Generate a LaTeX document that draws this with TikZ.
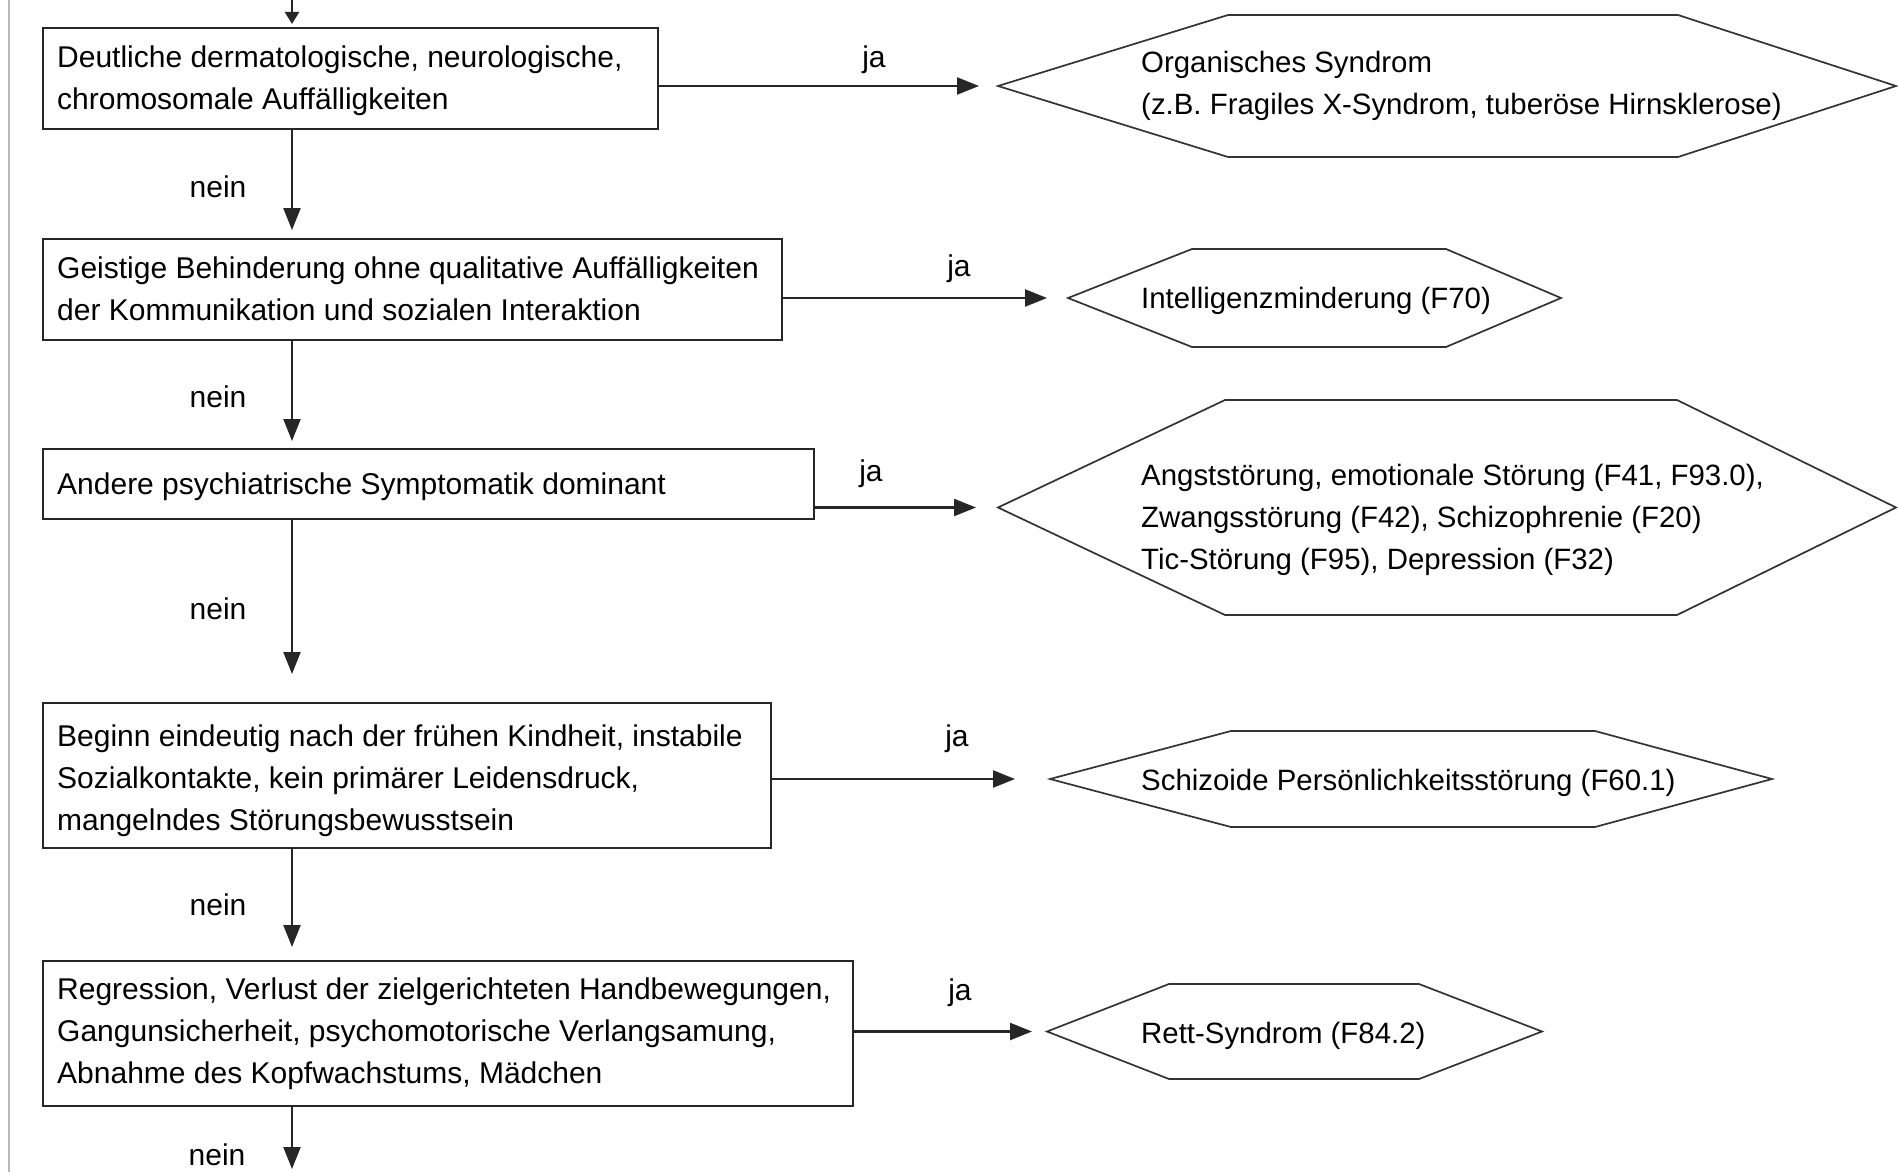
\documentclass[tikz,border=0pt]{standalone}
\usepackage{fontspec}
\setmainfont{Liberation Sans}
\usetikzlibrary{arrows.meta}

% hexagonal outcome outline: #1 name of left tip, #2 left tip x, #3 left corner x,
% #4 right corner x, #5 right tip x, #6 top y, #7 bottom y
\newcommand\hexoutcome[7]{%
  \draw[hexline] (#2,{(#6+#7)/2}) -- (#3,#6) -- (#4,#6) -- (#5,{(#6+#7)/2})
    -- (#4,#7) -- (#3,#7) -- cycle;
  \coordinate (#1) at (#2,{(#6+#7)/2});
}

\begin{document}
\begin{tikzpicture}[x=1pt, y=-1pt,
  every node/.style={font=\fontsize{30}{42}\selectfont, text=black},
  question/.style={draw=black!85, line width=2.2pt, anchor=north west,
    inner sep=0pt},
  qtext/.style={anchor=west, align=left, inner sep=0pt, xshift=15pt},
  hexline/.style={draw=black!80, line width=1.7pt, line join=miter},
  outtext/.style={anchor=west, align=left, inner sep=0pt,
    font=\fontsize{29.4}{42}\selectfont},
  flow/.style={draw=black!85, line width=2.4pt, -{Triangle[length=22pt,width=17pt]}},
  answer/.style={inner sep=0pt}]

\useasboundingbox (0,0) rectangle (1898,1172);
\fill[white] (0,0) rectangle (1898,1172);

% page edge on the left
\draw[gray!55, line width=1.5pt] (9,0) -- (9,1172);

% decision boxes
\node[question, minimum width=615pt, minimum height=101pt] (b1) at (42,27) {};
\node[question, minimum width=739pt, minimum height=101pt] (b2) at (42,238) {};
\node[question, minimum width=771pt, minimum height=70pt]  (b3) at (42,448) {};
\node[question, minimum width=728pt, minimum height=145pt] (b4) at (42,702) {};
\node[question, minimum width=810pt, minimum height=145pt] (b5) at (42,960) {};

\node[qtext] (q1) at ([yshift=-2.5pt]b1.west)
  {Deutliche dermatologische, neurologische,\\chromosomale Auffälligkeiten};
\node[qtext] (q2) at ([yshift=0.5pt]b2.west)
  {Geistige Behinderung ohne qualitative Auffälligkeiten\\der Kommunikation und sozialen Interaktion};
\node[qtext] (q3) at ([yshift=-3pt]b3.west)
  {Andere psychiatrische Symptomatik dominant};
\node[qtext] (q4) at ([yshift=-5.5pt]b4.west)
  {Beginn eindeutig nach der frühen Kindheit, instabile\\Sozialkontakte, kein primärer Leidensdruck,\\mangelndes Störungsbewusstsein};
\node[qtext] (q5) at ([yshift=-0.5pt]b5.west)
  {Regression, Verlust der zielgerichteten Handbewegungen,\\Gangunsicherheit, psychomotorische Verlangsamung,\\Abnahme des Kopfwachstums, Mädchen};

% outcome hexagons
\hexoutcome{h1}{998}{1228}{1678}{1896}{15}{157}
\hexoutcome{h2}{1068}{1192}{1446}{1561}{249}{347}
\hexoutcome{h3}{998}{1225}{1677}{1896}{400}{615}
\hexoutcome{h4}{1050}{1231}{1595}{1772}{731}{827}
\hexoutcome{h5}{1047}{1169}{1419}{1542}{984}{1079}

\node[outtext] (o1) at (1141,85.5)
  {Organisches Syndrom\\(z.B. Fragiles X-Syndrom, tuberöse Hirnsklerose)};
\node[outtext] (o2) at (1141,301) {Intelligenzminderung (F70)};
\node[outtext] (o3) at (1141,519.5)
  {Angststörung, emotionale Störung (F41, F93.0),\\Zwangsstörung (F42), Schizophrenie (F20)\\Tic-Störung (F95), Depression (F32)};
\node[outtext] (o4) at (1141,783) {Schizoide Persönlichkeitsstörung (F60.1)};
\node[outtext] (o5) at (1141,1036) {Rett-Syndrom (F84.2)};

% main "nein" path
\coordinate (spine) at (292,0);
\coordinate (exit) at (292,1169);
\draw[flow, -{Triangle[length=12pt,width=14pt]}, shorten >=3pt] (spine) -- (b1.north -| spine);
\draw[flow, shorten >=8pt]  (b1.south -| spine) -- (b2.north -| spine);
\draw[flow, shorten >=7pt]  (b2.south -| spine) -- (b3.north -| spine);
\draw[flow, shorten >=28pt] (b3.south -| spine) -- (b4.north -| spine);
\draw[flow, shorten >=13pt] (b4.south -| spine) -- (b5.north -| spine);
\draw[flow] (b5.south -| spine) -- (exit);

\node[answer] (n1) at (218,187)  {nein};
\node[answer] (n2) at (218,397)  {nein};
\node[answer] (n3) at (218,609)  {nein};
\node[answer] (n4) at (218,905)  {nein};
\node[answer] (n5) at (217,1155) {nein};

% "ja" branches
\draw[flow, shorten >=19pt] (h1 -| b1.east) -- (h1);
\draw[flow, shorten >=21pt] (h2 -| b2.east) -- (h2);
\draw[flow, shorten >=22pt] (h3 -| b3.east) -- (h3);
\draw[flow, shorten >=35pt] (h4 -| b4.east) -- (h4);
\draw[flow, shorten >=15pt] (h5 -| b5.east) -- (h5);

\node[answer] (j1) at (874,60)  {ja};
\node[answer] (j2) at (959,269) {ja};
\node[answer] (j3) at (871,474) {ja};
\node[answer] (j4) at (957,739) {ja};
\node[answer] (j5) at (960,993) {ja};

\end{tikzpicture}
\end{document}
